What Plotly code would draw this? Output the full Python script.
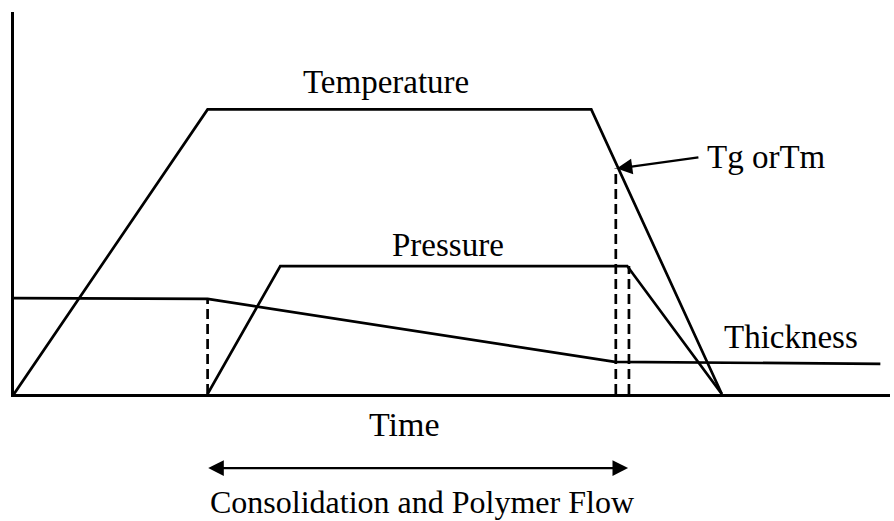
import plotly.graph_objects as go

# Schematic process curves (arbitrary units: time 0-100, value 0-100)
temp_t = [0, 22.1, 65.9, 80.8]
temp_v = [0, 74.5, 74.5, 0]

press_t = [22.1, 30.4, 70.0, 80.8]
press_v = [0, 33.5, 33.5, 0]

thick_t = [0, 22.1, 68.6, 98.9]
thick_v = [25.1, 24.9, 8.4, 7.9]

# dashed guide lines: (time, top value)
guide_t = [22.1, 68.7, 70.2]
guide_top = [24.9, 59.0, 33.5]

tg_point = (68.8, 59.0)
tg_label = (78.9, 62.0)

flow_start, flow_end = 22.0, 70.1

labels = ["Temperature", "Pressure", "Thickness"]
label_t = [42.5, 49.5, 88.7]
label_v = [81.7, 39.0, 14.9]

FONT = "Liberation Serif, Times New Roman, serif"
LW = 2.7

fig = go.Figure()
for t, v in [(temp_t, temp_v), (press_t, press_v), (thick_t, thick_v)]:
    fig.add_trace(go.Scatter(x=t, y=v, mode="lines",
                             line=dict(color="black", width=LW),
                             showlegend=False, hoverinfo="skip"))
for gt, gv in zip(guide_t, guide_top):
    fig.add_trace(go.Scatter(x=[gt, gt], y=[0, gv], mode="lines",
                             line=dict(color="black", width=LW, dash="10px,5px"),
                             showlegend=False, hoverinfo="skip"))

for txt, tx, ty in zip(labels, label_t, label_v):
    fig.add_annotation(x=tx, y=ty, xref="x", yref="y", text=txt, showarrow=False,
                       xanchor="center", yanchor="middle",
                       font=dict(family=FONT, size=33, color="black"))

# Tg or Tm label with arrow
fig.add_annotation(x=tg_label[0], y=tg_label[1], xref="x", yref="y", text="Tg orTm",
                   showarrow=False, xanchor="left", yanchor="middle",
                   font=dict(family=FONT, size=33, color="black"))
fig.add_annotation(x=tg_point[0], y=tg_point[1], xref="x", yref="y",
                   ax=tg_label[0] - 0.6, ay=tg_label[1], axref="x", ayref="y",
                   text="", showarrow=True, arrowhead=2, arrowsize=1.3,
                   arrowwidth=2.4, arrowcolor="black")

# Time axis label (paper y: 0 = x-axis, 1 = top of plot)
fig.add_annotation(x=44.6, y=-0.079, xref="x", yref="paper", text="Time", showarrow=False,
                   xanchor="center", yanchor="middle",
                   font=dict(family=FONT, size=34, color="black"))

# Double-headed arrow
fig.add_annotation(x=flow_end, y=-0.194, xref="x", yref="paper",
                   ax=flow_start, ay=0, axref="x", ayref="pixel",
                   text="", showarrow=True, arrowhead=2, arrowside="end+start",
                   arrowsize=1.3, arrowwidth=2.4, arrowcolor="black")

fig.add_annotation(x=46.6, y=-0.283, xref="x", yref="paper",
                   text="Consolidation and Polymer Flow", showarrow=False,
                   xanchor="center", yanchor="middle",
                   font=dict(family=FONT, size=32, color="black"))

fig.update_xaxes(range=[0, 100], showline=True, linecolor="black", linewidth=2.8,
                 showgrid=False, zeroline=False, showticklabels=False, ticks="")
fig.update_yaxes(range=[0, 100], showline=True, linecolor="black", linewidth=2.8,
                 showgrid=False, zeroline=False, showticklabels=False, ticks="")

fig.update_layout(width=894, height=521,
                  margin=dict(l=14, r=4, t=12, b=127),
                  plot_bgcolor="white", paper_bgcolor="white",
                  showlegend=False)

fig.write_html("out.html", config={"displayModeBar": False},
               post_script="document.body.style.margin='0';document.body.style.overflow='hidden';")
